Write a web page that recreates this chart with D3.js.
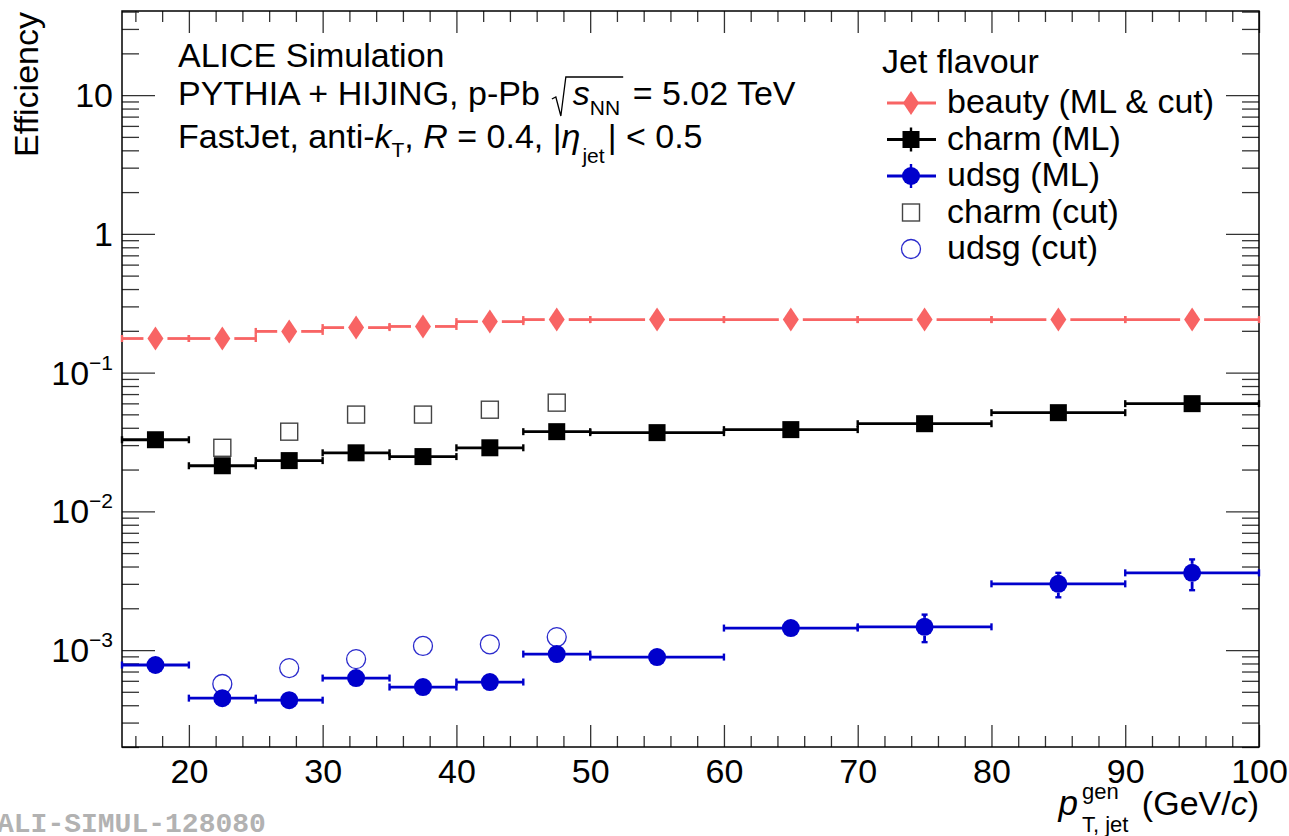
<!DOCTYPE html>
<html><head><meta charset="utf-8">
<script src="https://cdn.jsdelivr.net/npm/d3@7"></script>
<style>body{margin:0;background:#fff}svg{display:block}</style>
</head><body>
<svg id="c" width="1289" height="836"></svg>
<script>
// ---------------- data ----------------
const binLow  = [15,20,25,30,35,40,45,50,60,70,80,90];
const binHigh = [20,25,30,35,40,45,50,60,70,80,90,100];
const beauty     = [0.176,0.176,0.198,0.211,0.215,0.233,0.241,0.241,0.241,0.241,0.241,0.241];
const beautyErr  = [0.004,0.004,0.004,0.004,0.004,0.004,0.004,0.004,0.004,0.004,0.004,0.004];
const charmML    = [0.0328,0.0213,0.0232,0.0264,0.0248,0.0287,0.0375,0.0369,0.0388,0.0428,0.0514,0.0597];
const charmMLErr = [0.0010,0.0008,0.0008,0.0009,0.0009,0.0010,0.0012,0.0012,0.0013,0.0015,0.0018,0.0022];
const udsgML     = [7.8e-4,4.5e-4,4.35e-4,6.28e-4,5.41e-4,5.88e-4,9.35e-4,8.9e-4,1.44e-3,1.47e-3,3.0e-3,3.6e-3];
const udsgMLErr  = [0.4e-4,0.3e-4,0.3e-4,0.5e-4,0.4e-4,0.5e-4,0.8e-4,0.9e-4,1.4e-4,3.3e-4,6.0e-4,9.0e-4];
const cutBinLow  = [20,25,30,35,40,45];
const cutBinHigh = [25,30,35,40,45,50];
const charmCut   = [0.0287,0.0375,0.0498,0.0498,0.054,0.0607];
const udsgCut    = [5.69e-4,7.41e-4,8.6e-4,1.07e-3,1.10e-3,1.24e-3];
const xTickValues = [20,30,40,50,60,70,80,90,100];
const yTickValues = [1e-3,1e-2,1e-1,1,10];
const yTickBase   = ["10","10","10","1","10"];
const yTickExp    = ["\u22123","\u22122","\u22121","",""];
const legendLabels = ["beauty (ML & cut)","charm (ML)","udsg (ML)","charm (cut)","udsg (cut)"];

// ---------------- setup ----------------
const FONT = "'Liberation Sans',Arial,Helvetica,sans-serif";
const FS = 34, SUB = 21;
const L = 122, R = 1259, T = 11, B = 747;
const RED = "#f86464", BLUE = "#0000cc";
const svg = d3.select("#c").style("font-family", FONT);
svg.append("rect").attr("width",1289).attr("height",836).attr("fill","#fff");
const x = d3.scaleLinear().domain([15,100]).range([L,R]);
const y = d3.scaleLog().domain([2e-4,40.4]).range([B,T]);

// ---------------- axes ----------------
const minorX = d3.range(16,101,2).filter(v => v%10!==0);
const tickCol = "#333";
function styleAxis(g){ g.select(".domain").remove(); g.selectAll("line").attr("stroke",tickCol).attr("stroke-width",1.3); }
svg.append("g").attr("transform",`translate(0,${B})`)
  .call(d3.axisBottom(x).tickValues(minorX).tickSize(-11).tickFormat("")).call(styleAxis);
const xAx = svg.append("g").attr("transform",`translate(0,${B})`)
  .call(d3.axisBottom(x).tickValues(xTickValues).tickSize(-22).tickPadding(12).tickFormat(d3.format("d"))).call(styleAxis);
xAx.attr("font-family",null).attr("font-size",null);
xAx.selectAll("text").style("font-size",FS+"px").style("font-family",FONT).attr("fill","#000");
svg.append("g").attr("transform",`translate(0,${T})`)
  .call(d3.axisTop(x).tickValues(minorX).tickSize(-11).tickFormat("")).call(styleAxis);
svg.append("g").attr("transform",`translate(0,${T})`)
  .call(d3.axisTop(x).tickValues(xTickValues).tickSize(-22).tickFormat("")).call(styleAxis);

const minorY = [];
[-4,-3,-2,-1,0,1].forEach(e => { for (let m=2;m<=9;m++){ const v=m*Math.pow(10,e); if (v>y.domain()[0]*0.999 && v<y.domain()[1]) minorY.push(v);} });
svg.append("g").attr("transform",`translate(${L},0)`)
  .call(d3.axisLeft(y).tickValues(minorY).tickSize(-17).tickFormat("")).call(styleAxis);
svg.append("g").attr("transform",`translate(${L},0)`)
  .call(d3.axisLeft(y).tickValues(yTickValues).tickSize(-33).tickFormat("")).call(styleAxis);
svg.append("g").attr("transform",`translate(${R},0)`)
  .call(d3.axisRight(y).tickValues(minorY).tickSize(-17).tickFormat("")).call(styleAxis);
svg.append("g").attr("transform",`translate(${R},0)`)
  .call(d3.axisRight(y).tickValues(yTickValues).tickSize(-33).tickFormat("")).call(styleAxis);

// y labels with exponents
yTickValues.forEach((v,i) => {
  const t = svg.append("text").attr("x",113).attr("y",y(v)+12).attr("text-anchor","end").attr("font-size",FS);
  t.append("tspan").text(yTickBase[i]);
  if (yTickExp[i]) t.append("tspan").attr("font-size",SUB).attr("dy",-15).text(yTickExp[i]);
});

svg.append("rect").attr("x",L).attr("y",T).attr("width",R-L).attr("height",B-T)
  .attr("fill","none").attr("stroke","#000").attr("stroke-width",1.5);

// ---------------- rich text helper ----------------
function rich(x0, y0, segs, anchor) {
  const g = svg.append("g");
  let cx = 0; const P = {};
  segs.forEach(s => {
    if (s.gap !== undefined) { cx += s.gap; if (s.id) P[s.id] = cx; return; }
    if (s.stack) {
      let w = 0;
      s.stack.forEach(q => {
        const t = g.append("text").attr("x",cx).attr("y",q.dy||0).attr("font-size",q.size||FS)
          .attr("font-style",q.italic?"italic":null).text(q.t);
        w = Math.max(w, t.node().getComputedTextLength());
      });
      cx += w; return;
    }
    const t = g.append("text").attr("x",cx).attr("y",s.dy||0).attr("font-size",s.size||FS)
      .attr("font-style",s.italic?"italic":null).style("white-space","pre").text(s.t);
    if (s.id) P[s.id+"0"] = cx;
    cx += t.node().getComputedTextLength();
    if (s.id) P[s.id+"1"] = cx;
  });
  const off = anchor === "end" ? -cx : 0;
  g.attr("transform",`translate(${x0+off},${y0})`);
  return {g, P, w: cx};
}

// top-left text
rich(178, 67, [{t:"ALICE Simulation"}]);
const l2 = rich(178, 105, [
  {t:"PYTHIA + HIJING, p-Pb"}, {gap:12, id:"r0"}, {gap:21}, {t:"s", italic:true},
  {t:"NN", size:SUB, dy:10, id:"nn"}, {gap:3, id:"r1"}, {t:" = 5.02 TeV"}
]);
{
  const a = l2.P.r0, b = l2.P.r1;
  l2.g.append("path").attr("fill","none").attr("stroke","#000").attr("stroke-width",1.3)
    .attr("d",`M${a},-6 L${a+4},-8 L${a+9},11 L${a+14},-28 L${b},-28`);
}
rich(178, 148, [
  {t:"FastJet, anti-"}, {t:"k", italic:true}, {t:"T", size:SUB, dy:9}, {t:", "}, {t:"R", italic:true},
  {t:" = 0.4, |"}, {t:"\u03b7", italic:true}, {gap:2}, {t:"jet", size:SUB, dy:15}, {gap:3}, {t:"| < 0.5"}
]);

// axis titles
svg.append("text").attr("transform",`translate(38,12) rotate(-90)`).attr("text-anchor","end")
  .attr("font-size",FS).text("Efficiency");
rich(1259, 815, [
  {t:"p", italic:true, size:35}, {gap:4},
  {stack:[{t:"gen", size:SUB+1, dy:-16}, {t:"T, jet", size:SUB+1, dy:17}]},
  {gap:4}, {t:" (GeV/"}, {t:"c", italic:true}, {t:")"}
], "end");

// watermark
svg.append("text").attr("x",-3).attr("y",832)
  .style("font-family","'Liberation Mono','DejaVu Sans Mono','Courier New',monospace")
  .attr("font-weight","bold").attr("font-size",28).attr("fill","#b2b2b2").text("ALI-SIMUL-128080");

// ---------------- data marks ----------------
const plot = svg.append("g");
function hbars(lo, hi, val, col, gapHalf) {
  const g = plot.append("g").attr("stroke",col).attr("stroke-width",2.8);
  val.forEach((v,i) => {
    const xc = x((lo[i]+hi[i])/2), yy = y(v);
    g.append("line").attr("x1",x(lo[i])).attr("x2",xc-gapHalf).attr("y1",yy).attr("y2",yy);
    g.append("line").attr("x1",xc+gapHalf).attr("x2",x(hi[i])).attr("y1",yy).attr("y2",yy);
    [lo[i],hi[i]].forEach(e => g.append("line").attr("x1",x(e)).attr("x2",x(e)).attr("y1",yy-3.5).attr("y2",yy+3.5).attr("stroke-width",2.4));
  });
}
function vbars(lo, hi, val, err, col, half) {
  const g = plot.append("g").attr("stroke",col).attr("stroke-width",2.8);
  val.forEach((v,i) => {
    const xc = x((lo[i]+hi[i])/2), yc = y(v), yt = y(v+err[i]), yb = y(Math.max(v-err[i], 1e-6));
    if (yc - yt > half) {
      g.append("line").attr("x1",xc).attr("x2",xc).attr("y1",yc-half).attr("y2",yt);
      g.append("line").attr("x1",xc-3).attr("x2",xc+3).attr("y1",yt).attr("y2",yt).attr("stroke-width",2.4);
    }
    if (yb - yc > half) {
      g.append("line").attr("x1",xc).attr("x2",xc).attr("y1",yc+half).attr("y2",yb);
      g.append("line").attr("x1",xc-3).attr("x2",xc+3).attr("y1",yb).attr("y2",yb).attr("stroke-width",2.4);
    }
  });
}
const diamond = (cx,cy) => `M${cx},${cy-12} L${cx+8},${cy} L${cx},${cy+12} L${cx-8},${cy} Z`;

// open markers (cut) first
cutBinLow.forEach((lo,i) => {
  const xc = x((lo+cutBinHigh[i])/2);
  plot.append("rect").attr("x",xc-8.5).attr("y",y(charmCut[i])-8.5).attr("width",17).attr("height",17)
    .attr("fill","none").attr("stroke","#444").attr("stroke-width",1.4);
  plot.append("circle").attr("cx",xc).attr("cy",y(udsgCut[i])).attr("r",9.5)
    .attr("fill","none").attr("stroke","#2a2acc").attr("stroke-width",1.3);
});

hbars(binLow, binHigh, beauty, RED, 12);
vbars(binLow, binHigh, beauty, beautyErr, RED, 12);
hbars(binLow, binHigh, charmML, "#000", 0);
vbars(binLow, binHigh, charmML, charmMLErr, "#000", 8.5);
hbars(binLow, binHigh, udsgML, BLUE, 0);
vbars(binLow, binHigh, udsgML, udsgMLErr, BLUE, 9);

binLow.forEach((lo,i) => {
  const xc = x((lo+binHigh[i])/2);
  plot.append("path").attr("d",diamond(xc,y(beauty[i]))).attr("fill",RED);
  plot.append("rect").attr("x",xc-8.5).attr("y",y(charmML[i])-8.5).attr("width",17).attr("height",17).attr("fill","#000");
  plot.append("circle").attr("cx",xc).attr("cy",y(udsgML[i])).attr("r",9).attr("fill",BLUE);
});

// ---------------- legend ----------------
const lg = svg.append("g");
lg.append("text").attr("x",882).attr("y",73).attr("font-size",FS).text("Jet flavour");
const legY = d3.scalePoint().domain(legendLabels).range([103,249]);
const lx0 = 887, lx1 = 936, lxc = 911;
legendLabels.forEach((lab,i) => {
  const cy = legY(lab);
  if (i===0) {
    lg.append("line").attr("x1",lx0).attr("x2",lx1).attr("y1",cy).attr("y2",cy).attr("stroke",RED).attr("stroke-width",2.8);
    lg.append("path").attr("d",diamond(lxc,cy)).attr("fill",RED);
  } else if (i===1 || i===2) {
    const col = i===1 ? "#000" : BLUE;
    lg.append("line").attr("x1",lx0).attr("x2",lx1).attr("y1",cy).attr("y2",cy).attr("stroke",col).attr("stroke-width",2.8);
    lg.append("line").attr("x1",lxc).attr("x2",lxc).attr("y1",cy-12).attr("y2",cy+12).attr("stroke",col).attr("stroke-width",2.4);
    if (i===1) lg.append("rect").attr("x",lxc-8.5).attr("y",cy-8.5).attr("width",17).attr("height",17).attr("fill","#000");
    else lg.append("circle").attr("cx",lxc).attr("cy",cy).attr("r",9).attr("fill",BLUE);
  } else if (i===3) {
    lg.append("rect").attr("x",lxc-8.5).attr("y",cy-8.5).attr("width",17).attr("height",17).attr("fill","none").attr("stroke","#444").attr("stroke-width",1.4);
  } else {
    lg.append("circle").attr("cx",lxc).attr("cy",cy).attr("r",9.5).attr("fill","none").attr("stroke","#2a2acc").attr("stroke-width",1.3);
  }
  lg.append("text").attr("x",947).attr("y",cy+10).attr("font-size",FS).text(lab);
});
</script>
</body></html>
